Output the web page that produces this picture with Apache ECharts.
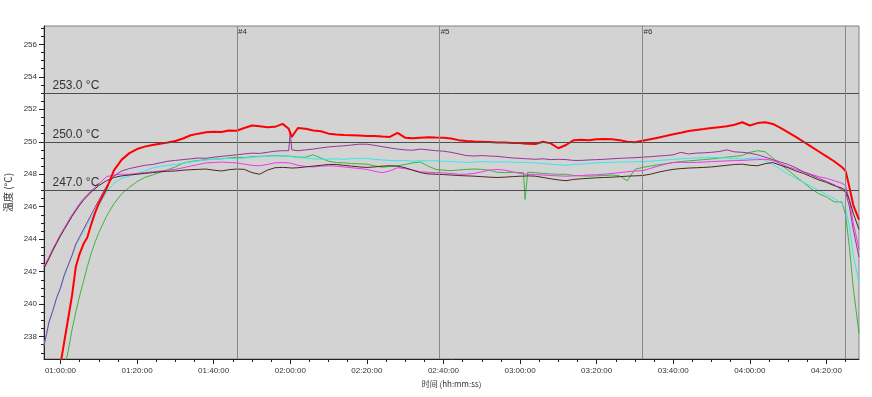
<!DOCTYPE html>
<html lang="zh">
  <head>
    <meta charset="UTF-8" />
    <title>温度曲线</title>
    <script src="https://cdn.jsdelivr.net/npm/echarts@6.0.0/dist/echarts.min.js"></script>
    <style>
      body { margin: 0; background: #fff; }
    </style>
  </head>
  <body>
    <div id="chart" style="width: 872px; height: 397px"></div>
    <script>
      // time in minutes since 00:00:00
      const times = [
        55.7, 57, 58, 59, 60, 61, 62, 63, 64, 65, 66, 67, 68, 69, 70, 72, 74, 76,
        78, 80, 82, 84, 86, 88, 90, 92, 94, 96, 98, 100, 102, 104, 106, 108, 110, 112, 114, 116, 118,
        119.6, 120, 120.4,
        122, 124, 126, 128, 130, 132, 134, 136, 138, 140, 142, 144, 146, 148, 150, 152, 154, 156, 158, 160,
        162, 164, 166, 168, 170, 172, 174, 176, 178, 180,
        180.9, 181.3,
        182, 184, 186, 188, 190, 192, 194, 196, 198, 200, 202, 204, 206, 208, 210, 212, 214, 216, 218, 220,
        222, 224, 226, 228, 230, 232, 234, 236, 238, 240, 242, 244, 246, 248, 250, 252, 254, 256, 258, 260,
        262, 264,
        265, 266, 267, 268.5,
      ];

      const redTemp = [
        230.5, 232.2, 233.7, 235.0, 236.3, 237.7, 239.1, 240.5, 242.3, 243.1, 243.7, 244.1, 244.9, 245.6, 246.2, 247.1, 248.25, 248.9,
        249.3, 249.55, 249.7, 249.8, 249.88, 249.95, 250.05, 250.2, 250.4, 250.5, 250.58, 250.62, 250.6, 250.7, 250.68, 250.85, 251.0, 250.95, 250.9, 250.92, 251.1,
        250.8, 250.78, 250.3,
        250.85, 250.8, 250.7, 250.65, 250.5, 250.45, 250.42, 250.4, 250.38, 250.36, 250.35, 250.32, 250.3, 250.55, 250.25, 250.22, 250.25, 250.28, 250.26, 250.25,
        250.2, 250.1, 250.05, 250.02, 250.0, 249.98, 249.96, 249.95, 249.93, 249.92,
        249.9, 249.9,
        249.88, 249.86, 250.0, 249.9, 249.6, 249.8, 250.1, 250.12, 250.1, 250.15, 250.17, 250.15, 250.1, 250.0, 249.97, 250.06, 250.15, 250.25, 250.35, 250.46,
        250.55, 250.66, 250.72, 250.78, 250.85, 250.9, 250.95, 251.05, 251.2, 251.0, 251.15, 251.2, 251.1, 250.85, 250.58, 250.3, 250.0, 249.7, 249.4, 249.1,
        248.8, 248.45,
        248.2, 247.2, 246.1, 245.2,
      ];

      const purpleTemp = [
        237.4, 238.9, 239.6, 240.4, 241.0, 241.8, 242.4, 243.0, 243.7, 244.15, 244.6, 245.05, 245.5, 245.95, 246.4, 247.25, 247.9, 248.2,
        248.35, 248.45, 248.55, 248.6, 248.7, 248.8, 248.85, 248.9, 248.95, 249.0, 248.98, 249.05, 249.1, 249.15, 249.2, 249.25, 249.3, 249.28, 249.35, 249.42, 249.45,
        249.45, 250.6, 249.5,
        249.45, 249.5, 249.55, 249.62, 249.68, 249.72, 249.75, 249.8, 249.85, 249.85, 249.78, 249.7, 249.62, 249.55, 249.5, 249.48, 249.55, 249.5, 249.45, 249.42,
        249.35, 249.25, 249.15, 249.12, 249.15, 249.12, 249.1, 249.05, 249.0, 248.98,
        248.96, 248.95,
        248.95, 248.92, 248.95, 248.9, 248.92, 248.9, 248.85, 248.85, 248.88, 248.9, 248.92, 248.95, 248.98, 249.0, 249.02, 249.05, 249.08, 249.12, 249.15, 249.2,
        249.35, 249.25, 249.3, 249.32, 249.35, 249.4, 249.5, 249.38, 249.35, 249.3, 249.2, 249.05, 248.9, 248.75, 248.6, 248.4, 248.15, 247.95, 247.75, 247.55,
        247.35, 247.05,
        246.9, 246.0, 244.6, 242.9,
      ];

      const cyanTemp = [
        237.5, 238.8, 239.55, 240.35, 240.95, 241.7, 242.35, 242.95, 243.6, 244.05, 244.45, 244.9, 245.3, 245.7, 246.05, 246.9, 247.45, 247.75,
        247.88, 248.05, 248.2, 248.38, 248.48, 248.55, 248.6, 248.68, 248.75, 248.82, 248.88, 248.92, 248.95, 248.98, 248.97, 249.0, 249.05, 249.08, 249.1, 249.13, 249.12,
        249.1, 249.1, 249.08,
        249.02, 249.0, 248.95, 248.92, 248.93, 248.95, 248.92, 248.96, 248.98, 248.97, 248.92, 248.88, 248.85, 248.83, 248.85, 248.8, 248.84, 248.82, 248.83, 248.8,
        248.78, 248.75, 248.72, 248.75, 248.78, 248.76, 248.75, 248.77, 248.74, 248.73,
        248.73, 248.72,
        248.72, 248.7, 248.66, 248.62, 248.58, 248.55, 248.6, 248.63, 248.66, 248.7, 248.72, 248.74, 248.75, 248.76, 248.77, 248.78, 248.8, 248.84, 248.88, 248.92,
        248.95, 248.98, 249.0, 249.03, 249.04, 249.02, 249.0, 248.96, 248.93, 248.98, 249.02, 248.85, 248.6, 248.3, 248.0, 247.75, 247.5, 247.25, 247.0, 246.75,
        246.5, 246.2,
        245.9, 244.8, 243.0, 241.3,
      ];

      const magentaTemp = [
        242.35, 242.9, 243.4, 243.85, 244.3, 244.7, 245.1, 245.5, 245.85, 246.2, 246.5, 246.75, 246.98, 247.2, 247.4, 247.85, 247.95, 248.0,
        248.0, 248.05, 248.1, 248.15, 248.2, 248.25, 248.3, 248.4, 248.5, 248.6, 248.7, 248.72, 248.75, 248.72, 248.7, 248.62, 248.55, 248.52, 248.6, 248.7, 248.72,
        248.7, 248.68, 248.66,
        248.55, 248.48, 248.45, 248.5, 248.52, 248.5, 248.45, 248.4, 248.35, 248.3, 248.18, 248.1, 248.2, 248.4, 248.35, 248.25, 248.15, 248.12, 248.1, 248.08,
        248.05, 248.0, 248.0, 248.05, 248.15, 248.25, 248.3, 248.25, 248.15, 248.05,
        248.02, 248.0,
        248.0, 247.98, 247.95, 247.92, 247.9, 247.88, 247.9, 247.92, 247.95, 247.97, 248.0, 248.05, 248.1, 248.15, 248.2, 248.22, 248.35, 248.5, 248.62, 248.72,
        248.74, 248.72, 248.73, 248.75, 248.78, 248.8, 248.82, 248.84, 248.85, 248.88, 248.9, 248.92, 248.85, 248.65, 248.45, 248.3, 248.15, 248.0, 247.85, 247.75,
        247.6, 247.45,
        247.3, 246.4, 245.0, 243.4,
      ];

      const greenTemp = [
        230.0, 231.4, 232.6, 233.8, 234.9, 236.0, 237.1, 238.4, 239.5, 240.5, 241.4, 242.3, 243.1, 243.8, 244.4, 245.4, 246.2, 246.8,
        247.2, 247.55, 247.8, 247.95, 248.12, 248.28, 248.45, 248.68, 248.78, 248.85, 248.9, 248.93, 248.95, 249.0, 249.05, 249.02, 249.08, 249.1, 249.12, 249.15, 249.12,
        249.12, 249.1, 249.1,
        249.05, 249.05, 249.2, 249.0, 248.8, 248.72, 248.7, 248.66, 248.64, 248.62, 248.52, 248.43, 248.48, 248.52, 248.6, 248.7, 248.75, 248.5, 248.3, 248.25,
        248.22, 248.26, 248.3, 248.32, 248.3, 248.25, 248.12, 248.1, 248.12, 248.1,
        248.1, 246.45,
        248.12, 248.1, 248.05, 248.02, 248.0, 248.0, 247.92, 247.9, 247.88, 247.9, 247.92, 247.95, 247.9, 247.6, 248.3, 248.42, 248.5, 248.58, 248.65, 248.72,
        248.78, 248.82, 248.86, 248.9, 248.94, 249.0, 249.05, 249.1, 249.15, 249.35, 249.45, 249.38, 249.0, 248.6, 248.25, 247.85, 247.5, 247.1, 246.8, 246.6,
        246.3, 246.3,
        245.5, 243.5, 241.0, 238.2,
      ];

      const brownTemp = [
        242.2, 242.8, 243.3, 243.75, 244.2, 244.6, 245.0, 245.4, 245.75, 246.1, 246.4, 246.65, 246.9, 247.1, 247.3, 247.6, 247.8, 247.9,
        247.95, 248.0, 248.05, 248.1, 248.15, 248.18, 248.2, 248.25, 248.28, 248.3, 248.32, 248.25, 248.2, 248.28, 248.32, 248.3, 248.1, 248.0, 248.25, 248.4, 248.42,
        248.4, 248.4, 248.38,
        248.4, 248.45, 248.5, 248.55, 248.6, 248.6, 248.55, 248.5, 248.45, 248.42, 248.45, 248.5, 248.52, 248.5, 248.4, 248.25, 248.1, 248.02, 248.0, 247.98,
        247.95, 247.92, 247.9, 247.88, 247.85, 247.82, 247.8, 247.82, 247.85, 247.88,
        247.88, 247.9,
        247.9, 247.88, 247.8, 247.72, 247.65, 247.6, 247.68, 247.72, 247.75, 247.78, 247.8, 247.82, 247.85, 247.88, 247.9, 247.92, 248.0, 248.12, 248.22, 248.3,
        248.35, 248.38, 248.4, 248.42, 248.45, 248.5, 248.55, 248.6, 248.62, 248.55, 248.52, 248.65, 248.72, 248.55, 248.4, 248.2, 248.05, 247.85, 247.65, 247.5,
        247.3, 247.15,
        247.0, 246.4, 245.6, 244.6,
      ];

      const limitLines = [253, 250, 247];
      const stepTimes = [106.1, 159, 212, 265];
      const stepNames = ["#4", "#5", "#6", ""];

      const xTicks = [60, 80, 100, 120, 140, 160, 180, 200, 220, 240, 260];
      const yTicks = [238, 240, 242, 244, 246, 248, 250, 252, 254, 256];

      const xMin = 55.7, xMax = 268.5;
      const yMin = 236.62, yMax = 257.13;

      const xMinorTicks = [];
      for (let m = 60; m <= xMax; m += 5) xMinorTicks.push(m);
      const yMinorTicks = [];
      for (let v = 237; v <= yMax; v += 0.5) yMinorTicks.push(v);

      const pad = (n) => (n < 10 ? "0" : "") + n;
      const fmtTime = (m) => pad(Math.floor(m / 60)) + ":" + pad(Math.round(m % 60)) + ":00";

      const lines = [
        { name: "green", data: greenTemp, color: "#3cb43c", width: 1 },
        { name: "cyan", data: cyanTemp, color: "#33eaea", width: 1 },
        { name: "magenta", data: magentaTemp, color: "#f035f0", width: 1 },
        { name: "brown", data: brownTemp, color: "#4a2a1c", width: 1 },
        { name: "purple", data: purpleTemp, color: "#993399", width: 1 },
        { name: "red", data: redTemp, color: "#ff0000", width: 2 },
      ];

      const axisColor = "#222";
      const font = "Liberation Sans, Arial, sans-serif";

      const series = lines.map((s) => ({
        type: "line",
        name: s.name,
        data: times.map((t, i) => [t, s.data[i]]),
        showSymbol: false,
        symbol: "none",
        silent: true,
        lineStyle: { color: s.color, width: s.width },
        itemStyle: { color: s.color },
      }));

      series[0].markLine = {
        silent: true,
        symbol: "none",
        animation: false,
        label: { show: false },
        data: [
          ...limitLines.map((v) => ({ yAxis: v, lineStyle: { color: "#4d4d4d", width: 1, type: "solid" } })),
          ...stepTimes.map((t) => ({ xAxis: t, lineStyle: { color: "#888", width: 1, type: "solid" } })),
        ],
      };
      series[0].markPoint = {
        silent: true,
        animation: false,
        data: [
          ...limitLines.map((v) => ({
            coord: [xMin, v],
            symbol: "rect",
            symbolSize: 1,
            itemStyle: { color: "rgba(0,0,0,0)" },
            label: {
              show: true,
              formatter: v.toFixed(1) + " °C",
              position: [9, -13],
              fontSize: 12,
              fontFamily: font,
              color: "#333",
            },
          })),
          ...stepTimes.map((t, i) => ({
            coord: [t, yMax],
            symbol: "rect",
            symbolSize: 1,
            itemStyle: { color: "rgba(0,0,0,0)" },
            label: {
              show: stepNames[i] !== "",
              formatter: stepNames[i] || " ",
              position: [1.5, 2],
              fontSize: 8,
              fontFamily: font,
              color: "#333",
            },
          })),
        ],
      };

      const chart = echarts.init(document.getElementById("chart"));
      chart.setOption({
        animation: false,
        backgroundColor: "#fff",
        grid: {
          left: 44,
          right: 13,
          top: 26,
          bottom: 38,
          containLabel: false,
          outerBoundsMode: "none",
          show: true,
          backgroundColor: "#d3d3d3",
          borderColor: "#808080",
          borderWidth: 1,
        },
        xAxis: [
          {
            type: "value",
            min: xMin,
            max: xMax,
            position: "bottom",
            axisLine: { show: true, lineStyle: { color: axisColor } },
            axisTick: { show: true, customValues: xTicks, length: 5, lineStyle: { color: axisColor } },
            axisLabel: { customValues: xTicks, formatter: fmtTime, fontSize: 8, fontFamily: font, color: "#333", margin: 8 },
            splitLine: { show: false },
            name: "时间 (hh:mm:ss)",
            nameLocation: "middle",
            nameGap: 20,
            nameTextStyle: { fontSize: 8, fontFamily: "Noto Sans CJK SC, " + font, color: "#333" },
          },
          {
            type: "value",
            min: xMin,
            max: xMax,
            position: "bottom",
            axisLine: { show: false },
            axisTick: { show: true, customValues: xMinorTicks, length: 3, lineStyle: { color: axisColor } },
            axisLabel: { show: false },
            splitLine: { show: false },
          },
        ],
        yAxis: [
          {
            type: "value",
            min: yMin,
            max: yMax,
            position: "left",
            axisLine: { show: true, lineStyle: { color: axisColor } },
            axisTick: { show: true, customValues: yTicks, length: 5, lineStyle: { color: axisColor } },
            axisLabel: { customValues: yTicks, fontSize: 8, fontFamily: font, color: "#333", margin: 7 },
            splitLine: { show: false },
            name: "温度 (°C)",
            nameLocation: "middle",
            nameGap: 30,
            nameRotate: 90,
            nameTextStyle: { fontSize: 10, fontFamily: "Noto Sans CJK SC, " + font, color: "#333" },
          },
          {
            type: "value",
            min: yMin,
            max: yMax,
            position: "left",
            axisLine: { show: false },
            axisTick: { show: true, customValues: yMinorTicks, length: 3, lineStyle: { color: axisColor } },
            axisLabel: { show: false },
            splitLine: { show: false },
          },
        ],
        series: series,
      });
    </script>
  </body>
</html>
